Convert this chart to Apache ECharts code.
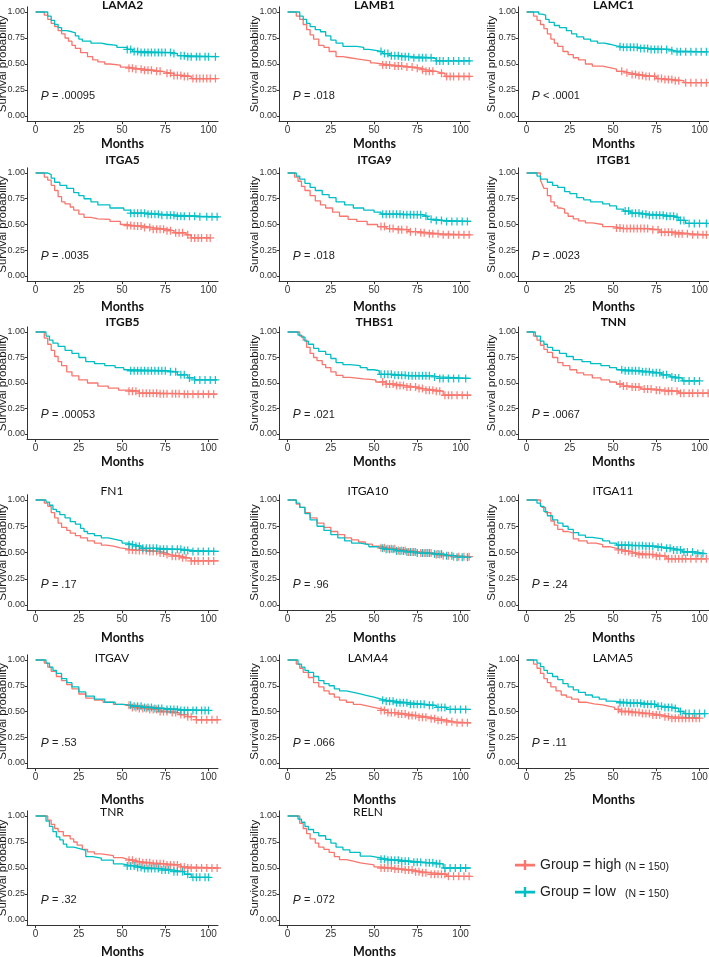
<!DOCTYPE html>
<html><head><meta charset="utf-8">
<script src="https://cdn.jsdelivr.net/npm/echarts@6/dist/echarts.min.js"></script>
<style>html,body{margin:0;padding:0;background:#fff}#c{width:709px;height:957px}</style>
</head><body><div id="c"></div>
<script>
// ---------- DATA ----------
const genes = ['LAMA2','LAMB1','LAMC1','ITGA5','ITGA9','ITGB1','ITGB5','THBS1','TNN','FN1','ITGA10','ITGA11','ITGAV','LAMA4','LAMA5','TNR','RELN'];
const pSign = ['=','=','<','=','=','=','=','=','=','=','=','=','=','=','=','=','='];
const pValues = ['.00095','.018','.0001','.0035','.018','.0023','.00053','.021','.0067','.17','.96','.24','.53','.066','.11','.32','.072'];
const xTicks = [0,25,50,75,100];
const yTicks = [0,0.25,0.5,0.75,1];
const groupNames = ['Group = high','Group = low'];
const groupN = ['(N = 150)','(N = 150)'];

const LAMA2_high = [[0,1],[3,1],[5,0.97],[7,0.93],[9,0.89],[11,0.86],[13,0.82],[15,0.79],[17,0.75],[19,0.72],[21,0.68],[23,0.65],[26,0.61],[30,0.57],[33,0.54],[36,0.52],[40,0.50],[43,0.49],[49,0.47],[54,0.46],[57,0.45],[63,0.44],[68,0.43],[73,0.42],[76,0.41],[80,0.39],[86,0.38],[90,0.36],[105,0.36]];
const LAMA2_high_cens = [54,56,58,61,63,65,67,70,72,76,78,80,82,84,86,88,91,93,95,97,99,101,104];
const LAMA2_low = [[0,1],[5,1],[7,0.96],[9,0.92],[11,0.88],[13,0.85],[15,0.82],[18,0.81],[21,0.80],[23,0.77],[25,0.74],[27,0.72],[32,0.70],[38,0.69],[41,0.68],[47,0.66],[53,0.64],[56,0.62],[60,0.61],[80,0.60],[82,0.58],[87,0.57],[105,0.57]];
const LAMA2_low_cens = [53,55,57,59,61,63,65,67,69,71,73,75,78,80,84,86,88,90,93,95,98,100,104];

const LAMB1_high = [[0,1],[3,1],[5,0.96],[7,0.93],[9,0.88],[11,0.83],[13,0.78],[15,0.74],[18,0.68],[21,0.66],[24,0.62],[28,0.57],[32,0.56],[36,0.55],[40,0.54],[44,0.53],[48,0.51],[50,0.50],[55,0.49],[61,0.48],[67,0.47],[73,0.46],[77,0.445],[80,0.43],[86,0.42],[88,0.41],[91,0.38],[106,0.38]];
const LAMB1_high_cens = [55,57,59,62,64,66,69,72,75,78,80,82,84,89,92,94,96,99,102,105];
const LAMB1_low = [[0,1],[5,1],[7,0.96],[9,0.93],[11,0.89],[13,0.86],[16,0.83],[19,0.81],[22,0.77],[25,0.73],[28,0.70],[32,0.67],[40,0.66],[44,0.64],[47,0.63],[51,0.62],[55,0.60],[59,0.58],[65,0.57],[73,0.56],[84,0.55],[86,0.53],[106,0.53]];
const LAMB1_low_cens = [54,56,58,60,62,64,66,68,70,73,76,78,80,83,86,88,90,93,96,99,102,105];

const LAMC1_high = [[0,1],[2.5,1],[4,0.96],[6,0.92],[8,0.88],[10,0.84],[12,0.79],[14,0.74],[16,0.70],[18,0.67],[21,0.62],[24,0.59],[27,0.56],[30,0.54],[34,0.50],[38,0.48],[44,0.465],[48,0.45],[52,0.43],[56,0.415],[60,0.40],[65,0.39],[69,0.38],[75,0.36],[79,0.35],[86,0.34],[91,0.32],[105,0.32]];
const LAMC1_high_cens = [55,58,61,63,65,67,69,71,74,76,78,80,82,84,86,88,92,95,98,101,104];
const LAMC1_low = [[0,1],[4,1],[7,0.98],[9,0.97],[11,0.93],[13,0.90],[16,0.87],[19,0.85],[23,0.82],[26,0.79],[29,0.76],[33,0.74],[37,0.72],[41,0.70],[45,0.69],[48,0.675],[52,0.665],[56,0.66],[65,0.65],[71,0.64],[83,0.627],[86,0.617],[105,0.617]];
const LAMC1_low_cens = [54,56,58,60,62,64,66,68,70,72,74,76,78,81,84,87,89,92,95,98,101,104];

const ITGA5_high = [[0,1],[3,1],[5,0.96],[7,0.93],[9,0.88],[11,0.83],[13,0.77],[15,0.72],[17,0.70],[20,0.67],[22,0.64],[25,0.60],[28,0.57],[32,0.555],[36,0.55],[43,0.53],[49,0.50],[53,0.49],[57,0.485],[63,0.47],[68,0.455],[76,0.44],[80,0.42],[87,0.40],[90,0.37],[101,0.37]];
const ITGA5_high_cens = [53,55,57,59,61,63,66,68,70,72,74,76,78,81,83,85,88,90,92,94,96,99,101];
const ITGA5_low = [[0,1],[4,1],[7,0.985],[9,0.95],[11,0.91],[14,0.88],[18,0.85],[22,0.81],[25,0.78],[28,0.75],[32,0.72],[36,0.69],[43,0.66],[51,0.64],[55,0.61],[65,0.60],[72,0.59],[82,0.58],[95,0.575],[106,0.57]];
const ITGA5_low_cens = [55,57,59,61,63,65,67,69,71,73,76,78,80,82,84,86,89,92,95,99,102,105];

const ITGA9_high = [[0,1],[2,1],[4,0.96],[6,0.92],[8,0.87],[10,0.83],[13,0.78],[16,0.73],[19,0.69],[22,0.66],[26,0.62],[30,0.58],[35,0.55],[40,0.53],[46,0.50],[52,0.48],[57,0.46],[62,0.45],[70,0.43],[76,0.42],[82,0.41],[88,0.40],[106,0.40]];
const ITGA9_high_cens = [54,56,59,61,64,66,69,71,74,77,79,82,84,87,90,93,96,99,102,105];
const ITGA9_low = [[0,1],[3,1],[5,0.97],[7,0.94],[10,0.90],[13,0.86],[16,0.83],[20,0.79],[24,0.76],[28,0.72],[33,0.69],[38,0.66],[44,0.64],[50,0.62],[54,0.60],[66,0.595],[78,0.58],[81,0.55],[86,0.54],[90,0.53],[106,0.53]];
const ITGA9_low_cens = [55,57,59,61,63,65,67,69,71,73,75,77,80,83,86,89,92,95,98,101,104];

const ITGB1_high = [[0,1],[6,1],[8,0.93],[9,0.89],[10,0.85],[12,0.78],[14,0.72],[16,0.68],[18,0.66],[20,0.65],[22,0.61],[24,0.58],[27,0.555],[30,0.535],[34,0.515],[38,0.50],[44,0.48],[50,0.465],[56,0.46],[71,0.45],[77,0.425],[86,0.41],[95,0.40],[105,0.40]];
const ITGB1_high_cens = [52,54,56,58,60,62,64,66,68,70,73,76,78,80,82,84,86,88,90,93,96,99,102,104];
const ITGB1_low = [[0,1],[4,1],[6,0.97],[8,0.94],[12,0.91],[15,0.88],[18,0.86],[22,0.82],[25,0.80],[29,0.76],[33,0.74],[37,0.72],[44,0.70],[48,0.68],[52,0.65],[56,0.63],[60,0.61],[66,0.60],[71,0.59],[80,0.58],[86,0.57],[88,0.54],[92,0.51],[105,0.51]];
const ITGB1_low_cens = [57,59,61,63,65,67,69,71,73,75,77,79,81,83,85,87,89,91,94,97,100,104];

const ITGB5_high = [[0,1],[3,1],[5,0.94],[7,0.88],[9,0.82],[11,0.76],[13,0.71],[15,0.67],[18,0.61],[21,0.57],[25,0.53],[30,0.50],[36,0.47],[42,0.45],[48,0.43],[54,0.42],[60,0.40],[72,0.395],[86,0.39],[105,0.39]];
const ITGB5_high_cens = [54,56,58,60,62,64,66,68,70,72,74,76,79,81,83,86,88,91,94,97,100,103];
const ITGB5_low = [[0,1],[4,1],[6,0.96],[8,0.92],[10,0.89],[13,0.86],[17,0.82],[21,0.79],[25,0.75],[29,0.71],[34,0.69],[40,0.67],[46,0.65],[51,0.63],[55,0.62],[76,0.61],[82,0.58],[88,0.55],[92,0.53],[105,0.53]];
const ITGB5_low_cens = [55,57,59,61,63,65,67,69,71,73,75,78,81,84,86,89,92,95,98,101,104];

const THBS1_high = [[0,1],[5,1],[7,0.96],[9,0.92],[11,0.85],[13,0.79],[15,0.75],[17,0.72],[20,0.68],[22,0.65],[25,0.61],[28,0.575],[32,0.555],[36,0.54],[44,0.53],[51,0.51],[57,0.49],[63,0.475],[69,0.46],[75,0.445],[79,0.43],[86,0.42],[90,0.38],[106,0.38]];
const THBS1_high_cens = [55,57,59,61,63,65,67,69,71,74,76,78,80,82,84,86,88,91,93,95,98,101,104];
const THBS1_low = [[0,1],[4,1],[6,0.97],[8,0.95],[10,0.91],[12,0.88],[15,0.84],[18,0.81],[22,0.78],[25,0.74],[28,0.70],[32,0.68],[36,0.67],[42,0.65],[46,0.63],[50,0.62],[53,0.585],[62,0.575],[69,0.57],[84,0.56],[88,0.545],[106,0.545]];
const THBS1_low_cens = [54,56,58,60,62,64,66,68,70,72,74,76,78,80,82,85,88,90,93,96,99,103];

const TNN_high = [[0,1],[2,1],[4,0.96],[6,0.92],[8,0.87],[10,0.83],[12,0.80],[15,0.75],[18,0.70],[21,0.67],[25,0.63],[29,0.60],[33,0.58],[38,0.55],[43,0.53],[48,0.51],[52,0.49],[56,0.47],[60,0.46],[66,0.44],[74,0.43],[80,0.42],[88,0.40],[106,0.40]];
const TNN_high_cens = [54,56,58,61,63,65,68,70,72,75,77,80,82,84,87,89,91,94,96,99,102,105];
const TNN_low = [[0,1],[3,1],[5,0.96],[8,0.91],[10,0.88],[12,0.85],[15,0.82],[19,0.79],[23,0.76],[27,0.73],[32,0.71],[37,0.69],[43,0.67],[48,0.65],[52,0.63],[56,0.62],[66,0.61],[73,0.60],[78,0.58],[83,0.56],[86,0.55],[90,0.52],[100,0.52]];
const TNN_low_cens = [55,57,59,61,63,65,67,69,71,73,75,77,79,81,84,86,88,91,94,97,100];

const FN1_high = [[0,1],[3,1],[5,0.97],[7,0.94],[9,0.88],[11,0.83],[13,0.78],[15,0.74],[18,0.71],[20,0.685],[23,0.66],[26,0.64],[30,0.61],[34,0.59],[38,0.57],[41,0.56],[45,0.545],[49,0.535],[53,0.525],[57,0.52],[65,0.51],[72,0.495],[76,0.48],[78,0.465],[84,0.45],[88,0.44],[90,0.42],[106,0.42]];
const FN1_high_cens = [54,56,58,60,62,64,66,68,70,72,74,76,79,81,83,85,87,90,92,94,97,100,103];
const FN1_low = [[0,1],[4,1],[6,0.98],[8,0.95],[10,0.91],[12,0.89],[14,0.86],[17,0.83],[20,0.795],[23,0.77],[26,0.73],[28,0.70],[30,0.68],[34,0.66],[38,0.64],[42,0.625],[46,0.61],[50,0.59],[53,0.575],[57,0.56],[61,0.54],[72,0.53],[85,0.52],[91,0.51],[106,0.51]];
const FN1_low_cens = [54,56,58,60,62,64,66,68,70,72,74,76,79,82,84,86,88,91,94,97,100,103];

const ITGA10_high = [[0,1],[3,1],[5,0.96],[7,0.93],[10,0.88],[13,0.83],[17,0.78],[21,0.74],[25,0.70],[29,0.67],[33,0.64],[37,0.62],[41,0.60],[45,0.58],[49,0.56],[54,0.545],[58,0.535],[63,0.52],[70,0.505],[76,0.495],[84,0.48],[90,0.47],[95,0.46],[106,0.46]];
const ITGA10_high_cens = [54,56,58,60,62,64,66,68,70,72,74,77,79,81,83,86,88,90,93,96,99,102,105];
const ITGA10_low = [[0,1],[3,1],[5,0.97],[7,0.93],[10,0.87],[13,0.81],[17,0.75],[21,0.71],[25,0.67],[29,0.64],[33,0.61],[37,0.59],[42,0.575],[47,0.555],[52,0.54],[56,0.53],[62,0.515],[68,0.505],[75,0.495],[83,0.485],[90,0.47],[96,0.455],[106,0.455]];
const ITGA10_low_cens = [55,57,59,61,63,65,67,69,71,73,75,78,80,82,85,87,89,92,95,98,101,104];

const ITGA11_high = [[0,1],[6,1],[8,0.95],[9,0.93],[11,0.88],[14,0.80],[16,0.76],[18,0.72],[21,0.70],[24,0.685],[27,0.63],[30,0.61],[35,0.59],[40,0.575],[44,0.555],[48,0.54],[52,0.525],[56,0.51],[60,0.495],[64,0.48],[75,0.465],[81,0.44],[104,0.44]];
const ITGA11_high_cens = [53,55,57,59,61,63,65,67,69,71,73,75,77,80,82,84,86,88,90,92,95,98,101,104];
const ITGA11_low = [[0,1],[4,1],[6,0.97],[8,0.94],[10,0.89],[12,0.85],[15,0.81],[18,0.78],[21,0.75],[24,0.72],[27,0.69],[30,0.665],[34,0.645],[38,0.63],[44,0.61],[48,0.59],[52,0.57],[60,0.565],[68,0.56],[75,0.55],[79,0.54],[85,0.525],[90,0.505],[98,0.49],[104,0.49]];
const ITGA11_low_cens = [53,55,57,59,61,63,65,67,69,71,73,76,78,81,83,85,87,89,91,93,96,99,102];

const ITGAV_high = [[0,1],[3,1],[5,0.97],[7,0.93],[9,0.89],[12,0.84],[15,0.80],[18,0.76],[21,0.72],[25,0.67],[29,0.63],[34,0.61],[39,0.59],[45,0.57],[50,0.56],[55,0.54],[60,0.53],[66,0.52],[72,0.50],[78,0.49],[83,0.47],[88,0.45],[93,0.42],[106,0.42]];
const ITGAV_high_cens = [54,56,58,60,62,64,66,68,70,72,74,76,79,81,84,86,88,90,93,96,99,102,105];
const ITGAV_low = [[0,1],[4,1],[6,0.97],[8,0.93],[10,0.90],[12,0.87],[15,0.82],[18,0.78],[21,0.74],[25,0.69],[29,0.65],[34,0.62],[40,0.59],[46,0.57],[51,0.56],[56,0.55],[62,0.54],[68,0.53],[75,0.52],[84,0.51],[100,0.51]];
const ITGAV_low_cens = [55,57,59,61,63,65,67,69,71,73,76,78,80,82,84,86,88,91,93,96,98,100];

const LAMA4_high = [[0,1],[3,1],[5,0.96],[7,0.92],[9,0.88],[12,0.83],[15,0.78],[18,0.74],[21,0.70],[24,0.67],[27,0.64],[30,0.61],[34,0.59],[38,0.57],[42,0.555],[46,0.54],[50,0.525],[54,0.51],[58,0.49],[63,0.475],[70,0.46],[76,0.445],[82,0.43],[87,0.415],[92,0.40],[97,0.39],[106,0.39]];
const LAMA4_high_cens = [54,56,58,60,62,64,66,68,70,72,74,76,78,80,83,85,87,89,92,95,98,101,104];
const LAMA4_low = [[0,1],[4,1],[6,0.96],[8,0.93],[10,0.90],[12,0.88],[15,0.84],[18,0.80],[21,0.77],[24,0.75],[27,0.72],[30,0.70],[34,0.685],[38,0.67],[42,0.655],[46,0.64],[50,0.625],[53,0.61],[57,0.60],[62,0.585],[70,0.57],[80,0.56],[86,0.54],[92,0.52],[106,0.52]];
const LAMA4_low_cens = [55,57,59,61,63,65,67,69,71,73,75,77,79,82,84,87,89,91,94,97,100,103];

const LAMA5_high = [[0,1],[2.5,1],[4,0.96],[6,0.92],[8,0.87],[10,0.82],[12,0.78],[14,0.74],[17,0.70],[20,0.66],[23,0.64],[26,0.62],[30,0.59],[34,0.575],[39,0.565],[44,0.55],[48,0.54],[51,0.52],[54,0.50],[60,0.49],[67,0.48],[73,0.465],[79,0.45],[83,0.435],[100,0.435]];
const LAMA5_high_cens = [53,55,57,59,61,63,65,67,69,71,73,75,77,80,82,84,86,88,90,92,94,96,98,100];
const LAMA5_low = [[0,1],[4,1],[6,0.97],[8,0.935],[10,0.90],[12,0.87],[15,0.84],[18,0.81],[21,0.77],[24,0.74],[27,0.71],[30,0.685],[34,0.66],[38,0.64],[42,0.62],[46,0.60],[50,0.585],[60,0.58],[68,0.57],[75,0.55],[80,0.54],[85,0.53],[88,0.50],[91,0.48],[104,0.48]];
const LAMA5_low_cens = [54,56,58,60,62,64,66,68,70,72,74,76,78,80,82,84,86,89,92,94,97,100,103];

const TNR_high = [[0,1],[5,1],[7,0.96],[9,0.92],[11,0.88],[13,0.85],[16,0.81],[20,0.78],[22,0.75],[24,0.72],[27,0.68],[30,0.655],[34,0.635],[38,0.62],[45,0.60],[50,0.585],[53,0.575],[57,0.56],[61,0.55],[68,0.54],[76,0.53],[84,0.51],[88,0.50],[106,0.50]];
const TNR_high_cens = [54,56,58,60,62,64,66,68,70,72,74,76,78,80,82,84,86,88,90,93,96,99,102,105];
const TNR_low = [[0,1],[4,1],[6,0.95],[8,0.90],[10,0.85],[12,0.80],[14,0.77],[16,0.73],[18,0.70],[22,0.685],[26,0.67],[29,0.61],[33,0.595],[38,0.575],[45,0.54],[50,0.53],[53,0.52],[58,0.505],[63,0.495],[72,0.48],[80,0.465],[86,0.44],[90,0.41],[101,0.41]];
const TNR_low_cens = [53,55,57,59,61,63,65,67,69,71,73,75,77,80,82,85,88,91,93,95,98,100];

const RELN_high = [[0,1],[5,1],[7,0.93],[9,0.88],[11,0.83],[13,0.78],[16,0.74],[18,0.70],[21,0.68],[24,0.65],[27,0.61],[30,0.58],[34,0.565],[38,0.55],[42,0.54],[46,0.53],[50,0.51],[53,0.50],[61,0.49],[67,0.48],[73,0.465],[78,0.455],[83,0.44],[92,0.42],[106,0.42]];
const RELN_high_cens = [54,56,58,60,62,64,66,68,70,72,74,76,78,80,83,85,87,89,91,93,96,99,102,105];
const RELN_low = [[0,1],[4,1],[6,0.97],[8,0.94],[10,0.90],[12,0.87],[15,0.84],[18,0.81],[22,0.775],[25,0.74],[28,0.70],[32,0.675],[36,0.65],[42,0.615],[48,0.60],[53,0.585],[58,0.575],[65,0.565],[72,0.555],[80,0.55],[86,0.54],[90,0.50],[106,0.50]];
const RELN_low_cens = [54,56,58,60,62,64,66,68,70,73,75,77,80,82,84,86,88,91,94,97,100,103];

// ---------- LAYOUT / STYLE ----------
const curves = {
  LAMA2:[LAMA2_high,LAMA2_low,LAMA2_high_cens,LAMA2_low_cens],
  LAMB1:[LAMB1_high,LAMB1_low,LAMB1_high_cens,LAMB1_low_cens],
  LAMC1:[LAMC1_high,LAMC1_low,LAMC1_high_cens,LAMC1_low_cens],
  ITGA5:[ITGA5_high,ITGA5_low,ITGA5_high_cens,ITGA5_low_cens],
  ITGA9:[ITGA9_high,ITGA9_low,ITGA9_high_cens,ITGA9_low_cens],
  ITGB1:[ITGB1_high,ITGB1_low,ITGB1_high_cens,ITGB1_low_cens],
  ITGB5:[ITGB5_high,ITGB5_low,ITGB5_high_cens,ITGB5_low_cens],
  THBS1:[THBS1_high,THBS1_low,THBS1_high_cens,THBS1_low_cens],
  TNN:[TNN_high,TNN_low,TNN_high_cens,TNN_low_cens],
  FN1:[FN1_high,FN1_low,FN1_high_cens,FN1_low_cens],
  ITGA10:[ITGA10_high,ITGA10_low,ITGA10_high_cens,ITGA10_low_cens],
  ITGA11:[ITGA11_high,ITGA11_low,ITGA11_high_cens,ITGA11_low_cens],
  ITGAV:[ITGAV_high,ITGAV_low,ITGAV_high_cens,ITGAV_low_cens],
  LAMA4:[LAMA4_high,LAMA4_low,LAMA4_high_cens,LAMA4_low_cens],
  LAMA5:[LAMA5_high,LAMA5_low,LAMA5_high_cens,LAMA5_low_cens],
  TNR:[TNR_high,TNR_low,TNR_high_cens,TNR_low_cens],
  RELN:[RELN_high,RELN_low,RELN_high_cens,RELN_low_cens]
};
const COLORS = ['#F8766D','#00BFC4'];
const COL_LEFT = [27,279,518], PLOT_W = 191;
const YNAME_GAP = [18,18,20];
const ROW_Y1 = [12,173,332,500,660,816];
const ROW_Y0 = [116,276,434,605,763,920];
const TITLE_Y = [5,160,322,491,658,812];
const TITLE_X_NORMAL = [112,368,613];
const MONTHS_GAP = [16,19,16,21,25,20];
const XMIN = -5, XMAX = 105.5, YMIN = -0.05, YMAX = 1.05;
const SANS = '"Liberation Sans",Arial,sans-serif';
const CAL = 'Lato,"Open Sans",sans-serif';
const PLUS = 'path://M0,4.2L10,4.2L10,5.8L0,5.8Z M4.2,0L5.8,0L5.8,10L4.2,10Z';
const LEG_ICON = 'path://M0,3.8L20,3.8L20,6.4L0,6.4Z M8.8,0L11.2,0L11.2,10L8.8,10Z';

function survAt(curve, t){ let s = curve[0][1]; for (const p of curve){ if (p[0] <= t) s = p[1]; } return s; }

const grids=[], xAxes=[], yAxes=[], series=[], graphics=[];
genes.forEach((g,i)=>{
  const row = Math.floor(i/3), col = i%3;
  const y1 = ROW_Y1[row], y0 = ROW_Y0[row], h = y0 - y1;
  grids.push({left: COL_LEFT[col], top: y1 - (YMAX-1)*h, width: PLOT_W, height: (YMAX-YMIN)*h, containLabel:false, outerBoundsMode:'none'});
  xAxes.push({gridIndex:i, type:'value', min:XMIN, max:XMAX, name:'Months', nameLocation:'middle', nameGap:MONTHS_GAP[row], nameMoveOverlap:false,
    nameTextStyle:{fontFamily:CAL, fontWeight:'bold', fontSize:12.5, color:'#111'},
    axisLine:{onZero:false, lineStyle:{color:'#333', width:1}},
    axisTick:{customValues:xTicks, length:3, lineStyle:{color:'#333'}},
    axisLabel:{customValues:xTicks, fontFamily:SANS, fontSize:10, color:'#333', margin:4},
    splitLine:{show:false}});
  yAxes.push({gridIndex:i, type:'value', min:YMIN, max:YMAX, name:'Survival probability', nameLocation:'middle', nameGap:YNAME_GAP[col], nameMoveOverlap:false,
    nameTextStyle:{fontFamily:SANS, fontSize:11.5, color:'#1a1a1a'},
    axisLine:{show:true, onZero:false, lineStyle:{color:'#333', width:1}},
    axisTick:{show:true, customValues:yTicks, length:2, lineStyle:{color:'#333'}},
    axisLabel:{customValues:yTicks, formatter:v=>v.toFixed(2), fontFamily:SANS, fontSize:9, color:'#333', margin:2},
    splitLine:{show:false}});
  const c = curves[g];
  [0,1].forEach(k=>{
    series.push({type:'line', name:groupNames[k], xAxisIndex:i, yAxisIndex:i, step:'end', showSymbol:false, symbol:'none',
      data:c[k], lineStyle:{color:COLORS[k], width:1.3}, itemStyle:{color:COLORS[k]}, silent:true, z:2+k});
  });
  [0,1].forEach(k=>{
    series.push({type:'scatter', name:groupNames[k]+' censor', xAxisIndex:i, yAxisIndex:i, symbol:PLUS, symbolSize:8,
      data:c[2+k].map(t=>[t, survAt(c[k], t)]), itemStyle:{color:COLORS[k], opacity:0.9}, silent:true, z:4});
  });
  const bold = row < 3;
  graphics.push({type:'text', x: bold ? COL_LEFT[col] + PLOT_W/2 : TITLE_X_NORMAL[col], y: TITLE_Y[row],
    style:{text:g, font:(bold?'bold ':'')+'12px '+CAL, fill:'#111', align:'center', verticalAlign:'middle', textAlign:'center', textVerticalAlign:'middle'}, silent:true, z:10});
  const px = COL_LEFT[col] + (3 - XMIN) * PLOT_W / (XMAX - XMIN);
  const py = y0 - 0.19 * h;
  graphics.push({type:'text', x:px, y:py,
    style:{text:'{i|P} '+pSign[i]+' '+pValues[i], font:'11px '+SANS, fill:'#222', verticalAlign:'middle', textVerticalAlign:'middle',
      rich:{i:{fontStyle:'italic', fontSize:12, fontFamily:SANS, fill:'#222'}}}, silent:true, z:10});
});

const chart = echarts.init(document.getElementById('c'), null, {renderer:'canvas'});
chart.setOption({
  animation:false,
  backgroundColor:'#fff',
  grid:grids, xAxis:xAxes, yAxis:yAxes, series:series, graphic:graphics,
  legend:{data:groupNames, orient:'vertical', left:510, top:853, itemWidth:20, itemHeight:10, itemGap:12, icon:LEG_ICON,
    selectedMode:false,
    formatter: name => '{a|'+name+'}{b|'+groupN[groupNames.indexOf(name)]+'}',
    textStyle:{rich:{a:{fontFamily:SANS, fontSize:14, color:'#222', width:85}, b:{fontFamily:SANS, fontSize:10.5, color:'#222', padding:[5,0,0,0]}}}}
});
</script></body></html>
